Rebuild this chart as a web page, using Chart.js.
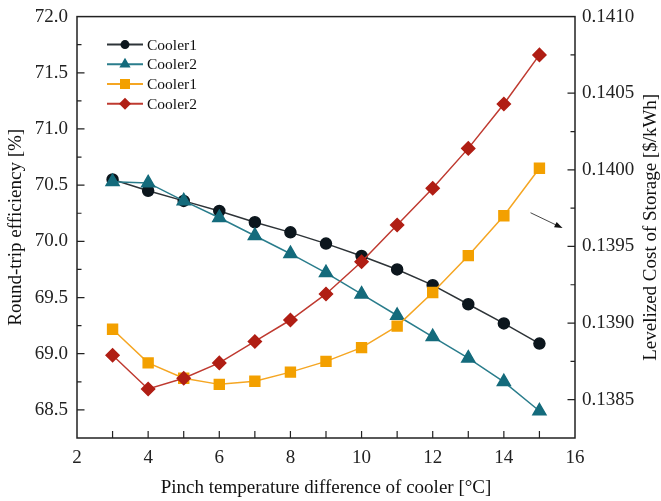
<!DOCTYPE html>
<html>
<head>
<meta charset="utf-8">
<script src="https://cdn.jsdelivr.net/npm/chart.js@4/dist/chart.umd.min.js"></script>
<style>
  html, body { margin: 0; padding: 0; background: #fff; }
</style>
</head>
<body>
<canvas id="pinch_chart" width="661" height="501"></canvas>
<script>
// data
var pinchDiff = [3, 4, 5, 6, 7, 8, 9, 10, 11, 12, 13, 14, 15];

var rteCooler1 = [70.55, 70.45, 70.36, 70.27, 70.17, 70.08, 69.98, 69.87, 69.75, 69.61, 69.44, 69.27, 69.09];
var rteCooler2 = [70.53, 70.52, 70.36, 70.21, 70.05, 69.89, 69.72, 69.53, 69.34, 69.15, 68.96, 68.75, 68.49];

var lcosCooler1 = [0.13896, 0.13874, 0.13864, 0.13860, 0.13862, 0.13868, 0.13875, 0.13884, 0.13898, 0.13920, 0.13944, 0.13970, 0.14001];
var lcosCooler2 = [0.13879, 0.13857, 0.13864, 0.13874, 0.13888, 0.13902, 0.13919, 0.13940, 0.13964, 0.13988, 0.14014, 0.14043, 0.14075];

var seriesLabels = ["Cooler1", "Cooler2", "Cooler1", "Cooler2"];

// the little arrow pointing at the right axis (x, right-axis value)
var arrowX = [14.75, 15.65];
var arrowY = [0.13972, 0.13962];

var xTitle = "Pinch temperature difference of cooler [°C]";
var yLeftTitle = "Round-trip efficiency [%]";
var yRightTitle = "Levelized Cost of Storage [$/kWh]";

/////////////////////////////////////////////////////////

var FONT = "'Liberation Serif', 'Times New Roman', serif";
var axisColor = "#222";

function toPoints(ys) {
    return pinchDiff.map(function(x, i) { return { x: x, y: ys[i] }; });
}

var dataBlack = {
    label: seriesLabels[0],
    data: toPoints(rteCooler1),
    yAxisID: "y",
    borderColor: "#2e3438",
    backgroundColor: "#0c161d",
    pointBorderColor: "#0c161d",
    pointStyle: "circle",
    pointRadius: 5.5,
    borderWidth: 1.5,
    lineTension: 0,
    fill: false,
    order: 3
};

var dataTeal = {
    label: seriesLabels[1],
    data: toPoints(rteCooler2),
    yAxisID: "y",
    borderColor: "#2a7d8c",
    backgroundColor: "#146b7c",
    pointBorderColor: "#146b7c",
    pointStyle: "triangle",
    pointRadius: 7.5,
    borderWidth: 1.5,
    lineTension: 0,
    fill: false,
    order: 2
};

var dataOrange = {
    label: seriesLabels[2],
    data: toPoints(lcosCooler1),
    yAxisID: "y1",
    borderColor: "#f5a623",
    backgroundColor: "#f3a000",
    pointBorderColor: "#f3a000",
    pointStyle: "rect",
    pointRadius: 7,
    borderWidth: 1.5,
    lineTension: 0,
    fill: false,
    order: 1
};

var dataRed = {
    label: seriesLabels[3],
    data: toPoints(lcosCooler2),
    yAxisID: "y1",
    borderColor: "#bf3a30",
    backgroundColor: "#b01e14",
    pointBorderColor: "#b01e14",
    pointStyle: "rectRot",
    pointRadius: 6.5,
    borderWidth: 1.5,
    lineTension: 0,
    fill: false,
    order: 0
};

function drawMarker(ctx, style, x, y, r, color) {
    ctx.fillStyle = color;
    ctx.beginPath();
    if (style === "circle") {
        ctx.arc(x, y, r, 0, Math.PI * 2);
    } else if (style === "triangle") {
        ctx.moveTo(x, y - r);
        ctx.lineTo(x + r * 0.866, y + r * 0.5);
        ctx.lineTo(x - r * 0.866, y + r * 0.5);
    } else if (style === "rect") {
        ctx.rect(x - r, y - r, 2 * r, 2 * r);
    } else {
        ctx.moveTo(x, y - r);
        ctx.lineTo(x + r, y);
        ctx.lineTo(x, y + r);
        ctx.lineTo(x - r, y);
    }
    ctx.closePath();
    ctx.fill();
}

// frame, inward ticks, legend, arrow and right-hand title
var framePlugin = {
    id: "frame",
    afterDraw: function(chart) {
        var ctx = chart.ctx;
        var a = chart.chartArea;
        var xs = chart.scales.x, yl = chart.scales.y, yr = chart.scales.y1;
        ctx.save();
        ctx.strokeStyle = axisColor;
        ctx.lineWidth = 1.5;
        ctx.strokeRect(a.left, a.top, a.right - a.left, a.bottom - a.top);

        ctx.lineWidth = 1.2;
        ctx.beginPath();
        xs.ticks.forEach(function(t) {
            if (t.value <= xs.min || t.value >= xs.max) return;
            var p = xs.getPixelForValue(t.value);
            ctx.moveTo(p, a.bottom);
            ctx.lineTo(p, a.bottom - 7);
        });
        yl.ticks.forEach(function(t) {
            if (t.value <= yl.min + 1e-9 || t.value >= yl.max - 1e-9) return;
            var p = yl.getPixelForValue(t.value);
            var len = t.label === "" ? 4.5 : 7.5;
            ctx.moveTo(a.left, p);
            ctx.lineTo(a.left + len, p);
        });
        yr.ticks.forEach(function(t) {
            if (t.value <= yr.min + 1e-9 || t.value >= yr.max - 1e-9) return;
            var p = yr.getPixelForValue(t.value);
            var len = t.label === "" ? 4.5 : 7.5;
            ctx.moveTo(a.right, p);
            ctx.lineTo(a.right - len, p);
        });
        ctx.stroke();

        // legend
        var sizes = { circle: 4.5, triangle: 6.5, rect: 5, rectRot: 6 };
        chart.data.datasets.forEach(function(ds, i) {
            var ly = a.top + 28 + i * 19.7;
            var lx = a.left + 30;
            ctx.strokeStyle = ds.borderColor;
            ctx.lineWidth = 2;
            ctx.beginPath();
            ctx.moveTo(lx, ly);
            ctx.lineTo(lx + 36, ly);
            ctx.stroke();
            drawMarker(ctx, ds.pointStyle, lx + 18, ly, sizes[ds.pointStyle], ds.backgroundColor);
            ctx.fillStyle = "#111";
            ctx.font = "15.5px " + FONT;
            ctx.textAlign = "left";
            ctx.textBaseline = "middle";
            ctx.fillText(ds.label, lx + 40, ly + 1);
        });

        // arrow
        var x0 = xs.getPixelForValue(arrowX[0]), y0 = yr.getPixelForValue(arrowY[0]);
        var x1 = xs.getPixelForValue(arrowX[1]), y1 = yr.getPixelForValue(arrowY[1]);
        var ang = Math.atan2(y1 - y0, x1 - x0);
        ctx.strokeStyle = "#333";
        ctx.fillStyle = "#111";
        ctx.lineWidth = 0.9;
        ctx.beginPath();
        ctx.moveTo(x0, y0);
        ctx.lineTo(x1 - 6 * Math.cos(ang), y1 - 6 * Math.sin(ang));
        ctx.stroke();
        ctx.beginPath();
        ctx.moveTo(x1, y1);
        ctx.lineTo(x1 - 8 * Math.cos(ang) + 3 * Math.sin(ang), y1 - 8 * Math.sin(ang) - 3 * Math.cos(ang));
        ctx.lineTo(x1 - 8 * Math.cos(ang) - 3 * Math.sin(ang), y1 - 8 * Math.sin(ang) + 3 * Math.cos(ang));
        ctx.closePath();
        ctx.fill();

        // right axis title, reads bottom to top
        ctx.translate(651, (a.top + a.bottom) / 2);
        ctx.rotate(-Math.PI / 2);
        ctx.fillStyle = "#111";
        ctx.font = "19px " + FONT;
        ctx.textAlign = "center";
        ctx.textBaseline = "middle";
        ctx.fillText(yRightTitle, 0, 0);
        ctx.restore();
    }
};

var chartOptions = {
    responsive: false,
    animation: false,
    layout: { padding: { top: 15, left: 0, right: 0, bottom: 0 } },
    plugins: {
        legend: { display: false },
        tooltip: { enabled: false }
    },
    scales: {
        x: {
            type: "linear",
            position: "bottom",
            min: 2,
            max: 16,
            grid: { display: false, drawTicks: false },
            border: { display: false },
            ticks: {
                stepSize: 1,
                autoSkip: false,
                maxRotation: 0,
                padding: 9,
                color: axisColor,
                font: { family: FONT, size: 19 },
                callback: function(v) { return v % 2 === 0 ? String(v) : ""; }
            },
            title: {
                display: true,
                text: xTitle,
                color: "#111",
                font: { family: FONT, size: 19 },
                padding: { top: 0, bottom: 2 }
            },
            afterFit: function(scale) { scale.height = 63; }
        },
        y: {
            type: "linear",
            position: "left",
            min: 68.25,
            max: 72.0,
            grid: { display: false, drawTicks: false },
            border: { display: false },
            ticks: {
                stepSize: 0.25,
                autoSkip: false,
                padding: 9,
                color: axisColor,
                font: { family: FONT, size: 19, lineHeight: 0.8 },
                callback: function(v) {
                    return Math.round(v / 0.25) % 2 === 0 ? v.toFixed(1) : "";
                }
            },
            title: {
                display: true,
                text: yLeftTitle,
                color: "#111",
                font: { family: FONT, size: 19 },
                padding: { top: 5, bottom: 0 }
            },
            afterFit: function(scale) { scale.width = 77; }
        },
        y1: {
            type: "linear",
            position: "right",
            min: 0.13825,
            max: 0.141,
            grid: { display: false, drawTicks: false },
            border: { display: false },
            ticks: {
                stepSize: 0.00025,
                autoSkip: false,
                padding: 7,
                color: axisColor,
                font: { family: FONT, size: 19, lineHeight: 0.8 },
                callback: function(v) {
                    return Math.round(v / 0.00025) % 2 === 0 ? v.toFixed(4) : "";
                }
            },
            afterFit: function(scale) { scale.width = 86; }
        }
    }
};

var pinchCanvas = document.getElementById("pinch_chart");

var lineChart = new Chart(pinchCanvas, {
    type: "line",
    data: { datasets: [dataBlack, dataTeal, dataOrange, dataRed] },
    options: chartOptions,
    plugins: [framePlugin]
});
</script>
</body>
</html>
